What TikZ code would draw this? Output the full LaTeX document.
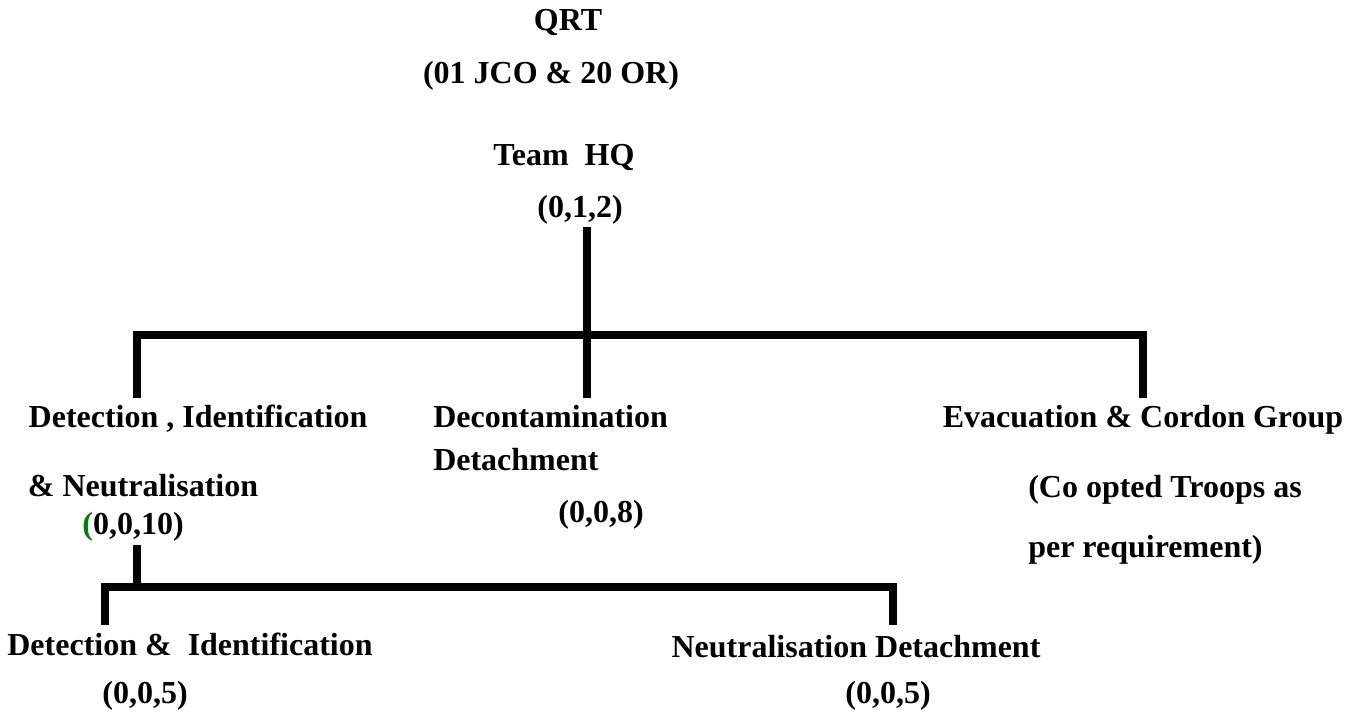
\documentclass[tikz,border=0pt]{standalone}
\usepackage{fontspec}
\setmainfont{Liberation Serif}
\usepackage{tikz}
\usetikzlibrary{positioning}
\definecolor{parengreen}{RGB}{0,128,0}

\begin{document}
\begin{tikzpicture}[x=0.75pt, y=-0.75pt]
	\tikzstyle{unit} = [inner sep=0pt, anchor=base, font=\fontsize{24}{28}\selectfont\bfseries]
	\tikzstyle{unitleft} = [unit, anchor=base west]
	\tikzstyle{orgline} = [line width=6pt]

	\useasboundingbox (0,0) rectangle (1359,711);

	% head of the team
	\node[unit] (qrt) at (568,30) {QRT};
	\node[unit] (qrtstr) at (551,83) {(01 JCO \& 20 OR)};
	\node[unit] (hq) at (564,165) {Team~ HQ};
	\node[unit] (hqstr) at (580,217) {(0,1,2)};

	% groups
	\node[unit] (din1) at (198,427) {Detection , Identification};
	\node[unit] (din2) at (143,496) {\& Neutralisation};
	\node[unit] (dinstr) at (133,534) {\textcolor{parengreen}{(}0,0,10)};

	\node[unitleft] (dec1) at (433,427) {Decontamination};
	\node[unitleft] (dec2) at (433,470) {Detachment};
	\node[unit] (decstr) at (601,522) {(0,0,8)};

	\node[unit] (eva1) at (1143,427) {Evacuation \& Cordon Group};
	\node[unitleft] (eva2) at (1028,497) {(Co opted Troops as};
	\node[unitleft] (eva3) at (1028,557) {per requirement)};

	% detachments
	\node[unit] (di) at (190,655) {Detection \&~ Identification};
	\node[unit] (distr) at (145,703) {(0,0,5)};
	\node[unit] (nd) at (856,657) {Neutralisation Detachment};
	\node[unit] (ndstr) at (888,703) {(0,0,5)};

	% connectors
	\coordinate (hqfoot) at (587,227);
	\coordinate (hub) at (587,335);
	\coordinate (dintop) at (137,398);
	\coordinate (dectop) at (587,398);
	\coordinate (evatop) at (1143,398);
	\draw[orgline] (hqfoot) -- (dectop);
	\draw[orgline] (dintop) |- (hub) -| (evatop);

	\coordinate (dinfoot) at (137,545);
	\coordinate (subhub) at (137,587);
	\coordinate (ditop) at (105,625);
	\coordinate (ndtop) at (893,625);
	\draw[orgline] (dinfoot) -- (subhub);
	\draw[orgline] (ditop) |- (subhub) -| (ndtop);
\end{tikzpicture}
\end{document}
